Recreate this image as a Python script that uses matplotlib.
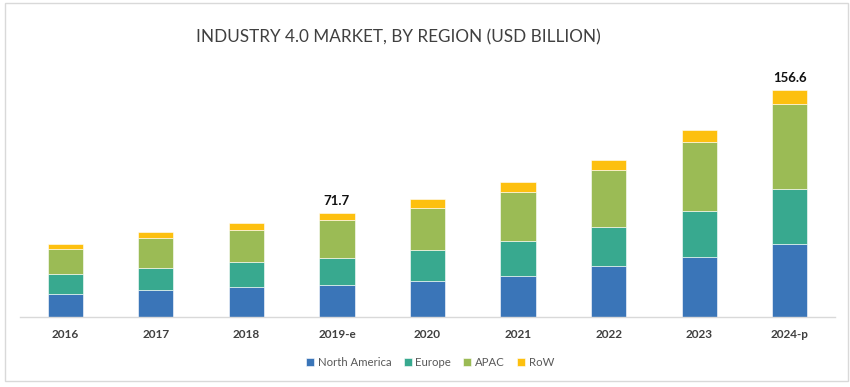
import numpy as np
import matplotlib
matplotlib.use("Agg")
import matplotlib.pyplot as plt
from matplotlib.patches import Rectangle

# values (USD billion)
years = ["2016", "2017", "2018", "2019-e", "2020", "2021", "2022", "2023", "2024-p"]
north_america = [15.9, 18.2, 20.3, 22.2, 24.4, 28.3, 34.8, 41.0, 50.2]
europe = [13.8, 15.6, 17.2, 18.3, 21.6, 23.9, 27.3, 31.7, 38.1]
apac = [17.2, 20.7, 22.5, 26.0, 29.2, 34.0, 39.3, 47.8, 58.6]
row = [3.2, 4.1, 4.4, 5.2, 5.8, 6.7, 6.9, 8.3, 9.7]
labelled = {3: "71.7", 8: "156.6"}

series = [("North America", north_america, "#3a75b8"),
          ("Europe", europe, "#38a98f"),
          ("APAC", apac, "#9bbb55"),
          ("RoW", row, "#fdc00f")]

fig = plt.figure(figsize=(8.5, 3.87), dpi=100)
ax = fig.add_axes([20 / 850, 70.3 / 387, 815 / 850, 246.5 / 387])

x = np.arange(len(years))
bottom = np.zeros(len(years))
for name, vals, col in series:
    vals = np.array(vals)
    ax.bar(x, vals, 0.39, bottom=bottom, color=col, label=name,
           edgecolor="white", linewidth=0.4)
    bottom += vals

for i, txt in labelled.items():
    ax.text(x[i], bottom[i] + 4, txt, ha="center", va="bottom",
            fontsize=9.5, fontweight="bold", color="#111111", family="Lato")

ax.set_xlim(-0.5, len(years) - 0.5)
ax.set_ylim(0, 170)
ax.set_yticks([])
ax.set_xticks(x)
ax.set_xticklabels(years, fontsize=8.5, fontweight="bold", color="#404040", family="Lato")
ax.tick_params(axis="x", length=0, pad=9)
for s in ["top", "left", "right"]:
    ax.spines[s].set_visible(False)
ax.spines["bottom"].set_color("#d9d9d9")
ax.spines["bottom"].set_linewidth(1)

fig.text(398 / 850, 1 - 37 / 387, "INDUSTRY 4.0 MARKET, BY REGION (USD BILLION)",
         ha="center", va="center", fontsize=12.3, color="#404040", family="Lato")

fig.legend(loc="center", bbox_to_anchor=(430 / 850, 1 - 362.5 / 387), ncol=4,
           frameon=False, handlelength=0.7, handleheight=0.7, handletextpad=0.3,
           columnspacing=1.1, prop={"family": "Lato", "size": 8.2},
           labelcolor="#595959")

fig.patches.append(Rectangle((5 / 850, 6 / 387), 843 / 850, 378 / 387,
                             transform=fig.transFigure, fill=False,
                             edgecolor="#d9d9d9", linewidth=1))

fig.savefig("out.png", dpi=100)
